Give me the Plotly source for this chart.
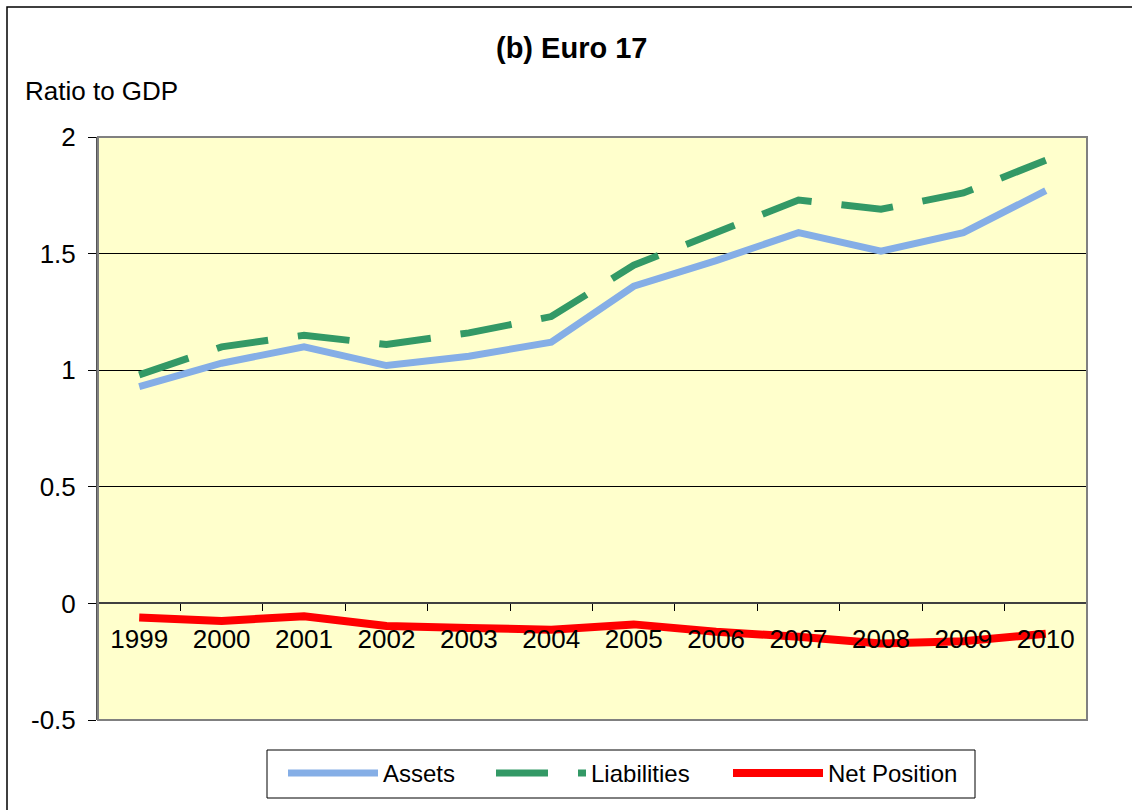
import plotly.graph_objects as go

years = ["1999", "2000", "2001", "2002", "2003", "2004", "2005", "2006", "2007", "2008", "2009", "2010"]
assets = [0.93, 1.03, 1.10, 1.02, 1.06, 1.12, 1.36, 1.47, 1.59, 1.51, 1.59, 1.77]
liabilities = [0.98, 1.10, 1.15, 1.11, 1.16, 1.23, 1.45, 1.59, 1.73, 1.69, 1.76, 1.90]
net_position = [-0.06, -0.075, -0.055, -0.097, -0.105, -0.113, -0.09, -0.122, -0.143, -0.172, -0.162, -0.13]
y_tickvals = [-0.5, 0, 0.5, 1, 1.5, 2]
y_ticktext = ["-0.5", "0", "0.5", "1", "1.5", "2"]

W, H = 1132, 810
L, R, T, B = 98, 45, 137, 90
PW, PH = W - L - R, H - T - B
YMIN, YMAX = -0.5, 2.0
FONT = "Arial, Liberation Sans, sans-serif"


def px(x):
    return (x - L) / PW


def py(y):
    return (H - B - y) / PH


fig = go.Figure()
fig.add_trace(go.Scatter(x=years, y=assets, name="Assets", mode="lines", legend="legend",
                         line=dict(color="#85AEE6", width=7)))
fig.add_trace(go.Scatter(x=years, y=liabilities, name="Liabilities", mode="lines", legend="legend2",
                         line=dict(color="#339966", width=7, dash="52px,30px")))
fig.add_trace(go.Scatter(x=years, y=net_position, name="Net Position", mode="lines", legend="legend3",
                         line=dict(color="#FF0000", width=8)))


def leg(left):
    return dict(
        orientation="h",
        x=px(left), xanchor="left",
        y=py(751), yanchor="top",
        borderwidth=0,
        bgcolor="rgba(0,0,0,0)",
        font=dict(size=24),
        itemwidth=90,
    )


fig.update_layout(
    width=W, height=H,
    margin=dict(l=L, r=R, t=T, b=B, pad=0),
    paper_bgcolor="white",
    plot_bgcolor="#FFFFCC",
    font=dict(family=FONT, size=26, color="black"),
    showlegend=True,
    legend=leg(283),
    legend2=leg(491),
    legend3=leg(728),
    xaxis=dict(
        type="category",
        categoryorder="array", categoryarray=years,
        range=[-0.5, len(years) - 0.5],
        anchor="free",
        position=(0 - YMIN) / (YMAX - YMIN),
        showline=True, linecolor="#404040", linewidth=1.5,
        tickson="boundaries",
        ticks="outside", ticklen=7, tickcolor="#000000", tickwidth=1,
        showgrid=False,
        ticklabelstandoff=13,
        tickfont=dict(size=26),
        fixedrange=True,
    ),
    yaxis=dict(
        range=[YMIN, YMAX],
        tickvals=y_tickvals, ticktext=y_ticktext,
        showgrid=True, gridcolor="#000000", gridwidth=1,
        zeroline=False,
        showline=True, linecolor="#555555", linewidth=2,
        ticks="outside", ticklen=8, tickcolor="#000000",
        ticklabelstandoff=7,
        tickfont=dict(size=26),
        fixedrange=True,
    ),
    shapes=[
        dict(type="rect", xref="paper", yref="paper", x0=0, x1=1, y0=0, y1=1,
             line=dict(color="#808080", width=2), layer="above"),
        dict(type="rect", xref="paper", yref="paper",
             x0=px(7), x1=px(W + 20), y0=py(7), y1=py(H + 20),
             line=dict(color="black", width=1.5), layer="above"),
        dict(type="rect", xref="paper", yref="paper",
             x0=px(267), x1=px(975), y0=py(750), y1=py(798),
             line=dict(color="black", width=1), layer="above"),
    ],
    annotations=[
        dict(text="<b>(b) Euro 17</b>", xref="paper", yref="paper",
             x=px(571), y=py(48), xanchor="center", yanchor="middle",
             showarrow=False, font=dict(size=29)),
        dict(text="Ratio to GDP", xref="paper", yref="paper",
             x=px(23), y=py(91), xanchor="left", yanchor="middle",
             showarrow=False, font=dict(size=26)),
    ],
)

fig.write_html("out.html", config={"displayModeBar": False},
               post_script="document.body.style.margin='0px';")
